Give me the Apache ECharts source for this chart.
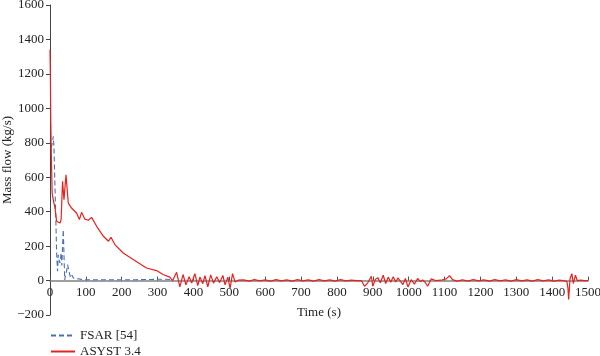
<!DOCTYPE html>
<html>
<head>
<meta charset="utf-8">
<script src="https://cdn.jsdelivr.net/npm/echarts@6/dist/echarts.min.js"></script>
<style>html,body{margin:0;padding:0;background:#fff}#c{width:600px;height:356px}</style>
</head>
<body>
<div id="c"></div>
<script>
// FSAR [54] (dashed blue)
var fsarTime = [3, 7, 9, 11, 13, 15, 16.5, 18.5, 21, 23, 25, 28, 31, 33, 35, 37, 39, 41, 44, 46, 49, 52, 55, 58, 62, 65, 70, 74, 80, 90, 120, 160, 200, 240, 280, 300, 320, 340];
var fsarValue = [770, 800, 837, 780, 614, 450, 334, 160, 54, 150, 120, 102, 160, 87, 200, 296, 150, 4, 40, 52, 93, 102, 35, 15, 30, 15, 25, 8, 10, 5, 5, 5, 5, 5, 6, 8, 8, 6];

// ASYST 3.4 (solid red)
var asystTime = [0, 1, 2, 4, 6, 9, 14, 18.5, 22, 28, 31, 35, 39, 44.6, 51, 60, 74, 82, 88, 97, 107, 116, 130, 149, 163, 170, 181, 204, 232, 269, 297, 315, 334, 342,
  353, 362, 371, 379, 388, 395, 404, 412, 418, 426, 432, 440, 448, 456, 465, 473, 482, 488, 496, 502, 509, 516, 525,
  540, 555, 570, 585, 600, 615, 630, 645, 660, 675, 690, 705, 720, 735, 750, 765, 780, 795, 810, 825, 840, 855, 868,
  877, 886, 896, 900, 907, 914, 921, 929, 936, 943, 950, 957, 964, 970, 975, 984, 991, 998, 1007, 1016, 1025, 1032, 1039, 1046, 1053, 1063, 1075, 1090, 1105, 1114, 1122, 1135,
  1150, 1165, 1180, 1195, 1210, 1225, 1240, 1255, 1270, 1285, 1300, 1315, 1330, 1345, 1360, 1375, 1390, 1405, 1420, 1435, 1441, 1444, 1446, 1450, 1455, 1459, 1465, 1470, 1480, 1490, 1500];
var asystValue = [1340, 1200, 950, 700, 508, 470, 421, 344, 344, 334, 354, 576, 470, 614, 450, 421, 392, 354, 396, 357, 350, 367, 315, 257, 228, 251, 209, 160, 122, 73, 58, 35, 20, 0,
  48, -37, 35, -25, 22, -14, 40, -30, 20, -18, 28, -36, 33, -15, 22, -12, 30, -25, 20, -45, 40, -8, 2,
  4, -3, 5, -2, 4, -3, 5, -2, 4, -3, 5, -2, 4, -3, 5, -2, 4, -3, 5, -2, 3, 0, 0,
  -33, -13, 25, -33, 6, 17, -13, 31, -17, 20, -10, 22, -8, 15, 25, -23, 12, -37, 5, -21, 12, -5, 3, -10, -33, 10, 0, 2, 10, 29, 5, -3,
  4, -3, 5, -2, 4, -3, 5, -2, 4, -3, 5, -2, 4, -3, 5, -2, 4, -3, 3, -2, -5, -42, -110, 12, 40, -17, 31, 0, 2, 0, 0];

var xTicks = { min: 0, max: 1500, interval: 100 };
var yTicks = { min: -200, max: 1600, interval: 200 };

function pairs(t, v) { return t.map(function (x, i) { return [x, v[i]]; }); }
function plain(v) { return String(v).replace('-', '\u2212'); }

var W = 600, H = 356;
var gridL = 50, gridR = 12, gridT = 5, gridB = 41;
var gridH = H - gridT - gridB;
// move the x axis (line, ticks, labels) up to the y = 0 level of the value scale
var zeroShift = (0 - yTicks.min) / (yTicks.max - yTicks.min) * gridH;

var font = 'Liberation Serif';
var legendCommon = {
  orient: 'vertical', left: 45, itemGap: 4, itemWidth: 24, itemHeight: 10,
  textStyle: { fontFamily: font, fontSize: 13, color: '#222' },
  itemStyle: { opacity: 0 }
};
var chart = echarts.init(document.getElementById('c'));
chart.setOption({
  animation: false,
  textStyle: { fontFamily: font },
  grid: { left: gridL, right: gridR, top: gridT, bottom: gridB, containLabel: false, outerBoundsMode: 'none' },
  legend: [
    Object.assign({ top: 324, data: ['FSAR [54]'] }, legendCommon),
    Object.assign({ top: 340, data: ['ASYST 3.4'] }, legendCommon)
  ],
  xAxis: {
    type: 'value', min: xTicks.min, max: xTicks.max, interval: xTicks.interval,
    offset: -zeroShift,
    name: 'Time (s)', nameLocation: 'middle', nameGap: 26, nameMoveOverlap: false,
    nameTextStyle: { fontFamily: font, fontSize: 13, color: '#222' },
    axisLine: { onZero: false, lineStyle: { color: '#808080', width: 1.5 } },
    axisTick: { inside: true, length: 4, lineStyle: { color: '#555' } },
    axisLabel: { fontFamily: font, fontSize: 13, color: '#222', margin: 6, formatter: plain },
    splitLine: { show: false }
  },
  yAxis: {
    type: 'value', min: yTicks.min, max: yTicks.max, interval: yTicks.interval,
    name: 'Mass flow (kg/s)', nameLocation: 'middle', nameGap: 36, nameMoveOverlap: false,
    nameTextStyle: { fontFamily: font, fontSize: 13, color: '#222' },
    axisLine: { show: true, onZero: false, lineStyle: { color: '#444', width: 1 } },
    axisTick: { show: true, length: 4, lineStyle: { color: '#444' } },
    axisLabel: { fontFamily: font, fontSize: 13, color: '#222', margin: 6, formatter: plain },
    splitLine: { show: false }
  },
  series: [
    {
      name: 'FSAR [54]', type: 'line', symbol: 'none', z: 2,
      data: pairs(fsarTime, fsarValue),
      lineStyle: { color: '#4a6fb5', width: 1.1, type: [5, 3] },
      itemStyle: { color: '#4a6fb5' }
    },
    {
      name: 'ASYST 3.4', type: 'line', symbol: 'none', z: 3,
      data: pairs(asystTime, asystValue),
      lineStyle: { color: '#e8211f', width: 1.2 },
      itemStyle: { color: '#e8211f' }
    }
  ]
});
</script>
</body>
</html>
